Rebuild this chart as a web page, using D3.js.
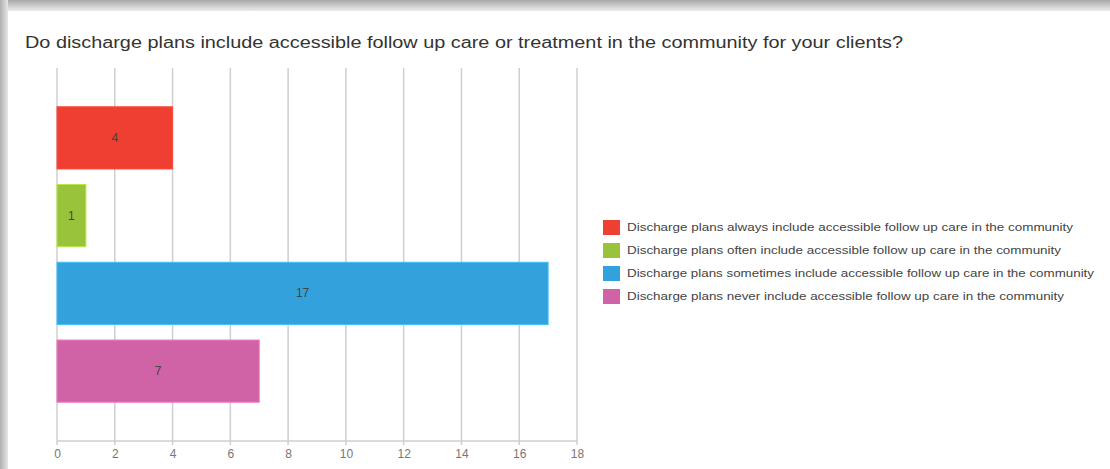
<!DOCTYPE html>
<html><head><meta charset="utf-8">
<script src="https://cdn.jsdelivr.net/npm/d3@7"></script>
<style>
html,body{margin:0;padding:0;background:#fff;}
svg{display:block;font-family:"Liberation Sans",Arial,sans-serif;}
</style></head>
<body><svg id="c" width="1110" height="469"></svg>
<script>
const title = "Do discharge plans include accessible follow up care or treatment in the community for your clients?";
const categories = [
  "Discharge plans always include accessible follow up care in the community",
  "Discharge plans often include accessible follow up care in the community",
  "Discharge plans sometimes include accessible follow up  care in the community",
  "Discharge plans never include accessible follow up care in the community"
];
const values = [4, 1, 17, 7];
const colors = ["#ef3e32", "#98c33b", "#33a2dc", "#d062a6"];
const xTicks = [0, 2, 4, 6, 8, 10, 12, 14, 16, 18];
const legendWidths = [446, 434, 467, 437];

const svg = d3.select("#c");
const defs = svg.append("defs");
const gt = defs.append("linearGradient").attr("id","gt").attr("x1",0).attr("y1",0).attr("x2",0).attr("y2",1);
gt.append("stop").attr("offset","0%").attr("stop-color","#a8a8a8");
gt.append("stop").attr("offset","100%").attr("stop-color","#ececec");
const gl = defs.append("linearGradient").attr("id","gl").attr("x1",0).attr("y1",0).attr("x2",1).attr("y2",0);
gl.append("stop").attr("offset","0%").attr("stop-color","#b0b0b0");
gl.append("stop").attr("offset","100%").attr("stop-color","#e6e6e6");

svg.append("rect").attr("x",0).attr("y",0).attr("width",1110).attr("height",11).attr("fill","url(#gt)");
svg.append("rect").attr("x",0).attr("y",0).attr("width",8).attr("height",469).attr("fill","url(#gl)");
svg.append("rect").attr("x",8).attr("y",11).attr("width",1102).attr("height",458).attr("fill","#fff");

svg.append("text").attr("x",25).attr("y",48).attr("font-size",16).attr("fill","#333")
  .attr("textLength",878).attr("lengthAdjust","spacingAndGlyphs").text(title);

const x = d3.scaleLinear().domain([0,18]).range([57,577]);
const y = d3.scaleBand().domain(categories).range([99,410]).paddingInner(0.2).paddingOuter(0.1);
const plotTop = 68, plotBottom = 441;

const grid = svg.append("g");
grid.selectAll("line").data(xTicks).join("line")
  .attr("x1", d=>x(d)).attr("x2", d=>x(d)).attr("y1", plotTop).attr("y2", plotBottom+4)
  .attr("stroke","#cfcfcf").attr("stroke-width",1.5);
svg.append("line").attr("x1",x(0)).attr("x2",x(18)).attr("y1",plotBottom).attr("y2",plotBottom)
  .attr("stroke","#cfcfcf").attr("stroke-width",1.5);

const xAxis = d3.axisBottom(x).tickValues(xTicks).tickSize(0).tickPadding(8);
const ax = svg.append("g").attr("transform",`translate(0,${plotBottom})`).call(xAxis);
ax.select(".domain").remove();
ax.selectAll("text").attr("font-size",12).attr("fill","#777").attr("font-family","Liberation Sans, Arial, sans-serif");

svg.append("g").selectAll("rect").data(values).join("rect")
  .attr("x", x(0)).attr("y",(d,i)=>y(categories[i]))
  .attr("width", d=>x(d)-x(0)).attr("height", y.bandwidth())
  .attr("fill",(d,i)=>colors[i]).attr("stroke",(d,i)=>d3.color(colors[i]).brighter(0.5)).attr("stroke-width",1);

svg.append("g").selectAll("text").data(values).join("text")
  .attr("x", d=>x(0)+(x(d)-x(0))/2).attr("y",(d,i)=>y(categories[i])+y.bandwidth()/2+4)
  .attr("text-anchor","middle").attr("font-size",12).attr("fill","#444").text(d=>d);

const lg = svg.append("g");
categories.forEach((c,i)=>{
  const yy = 220 + i*23;
  lg.append("rect").attr("x",603).attr("y",yy).attr("width",17).attr("height",15).attr("fill",colors[i]);
  lg.append("text").attr("x",627).attr("y",yy+11).attr("font-size",11).attr("fill","#444")
    .attr("textLength",legendWidths[i]).attr("lengthAdjust","spacingAndGlyphs").text(c);
});
</script></body></html>
